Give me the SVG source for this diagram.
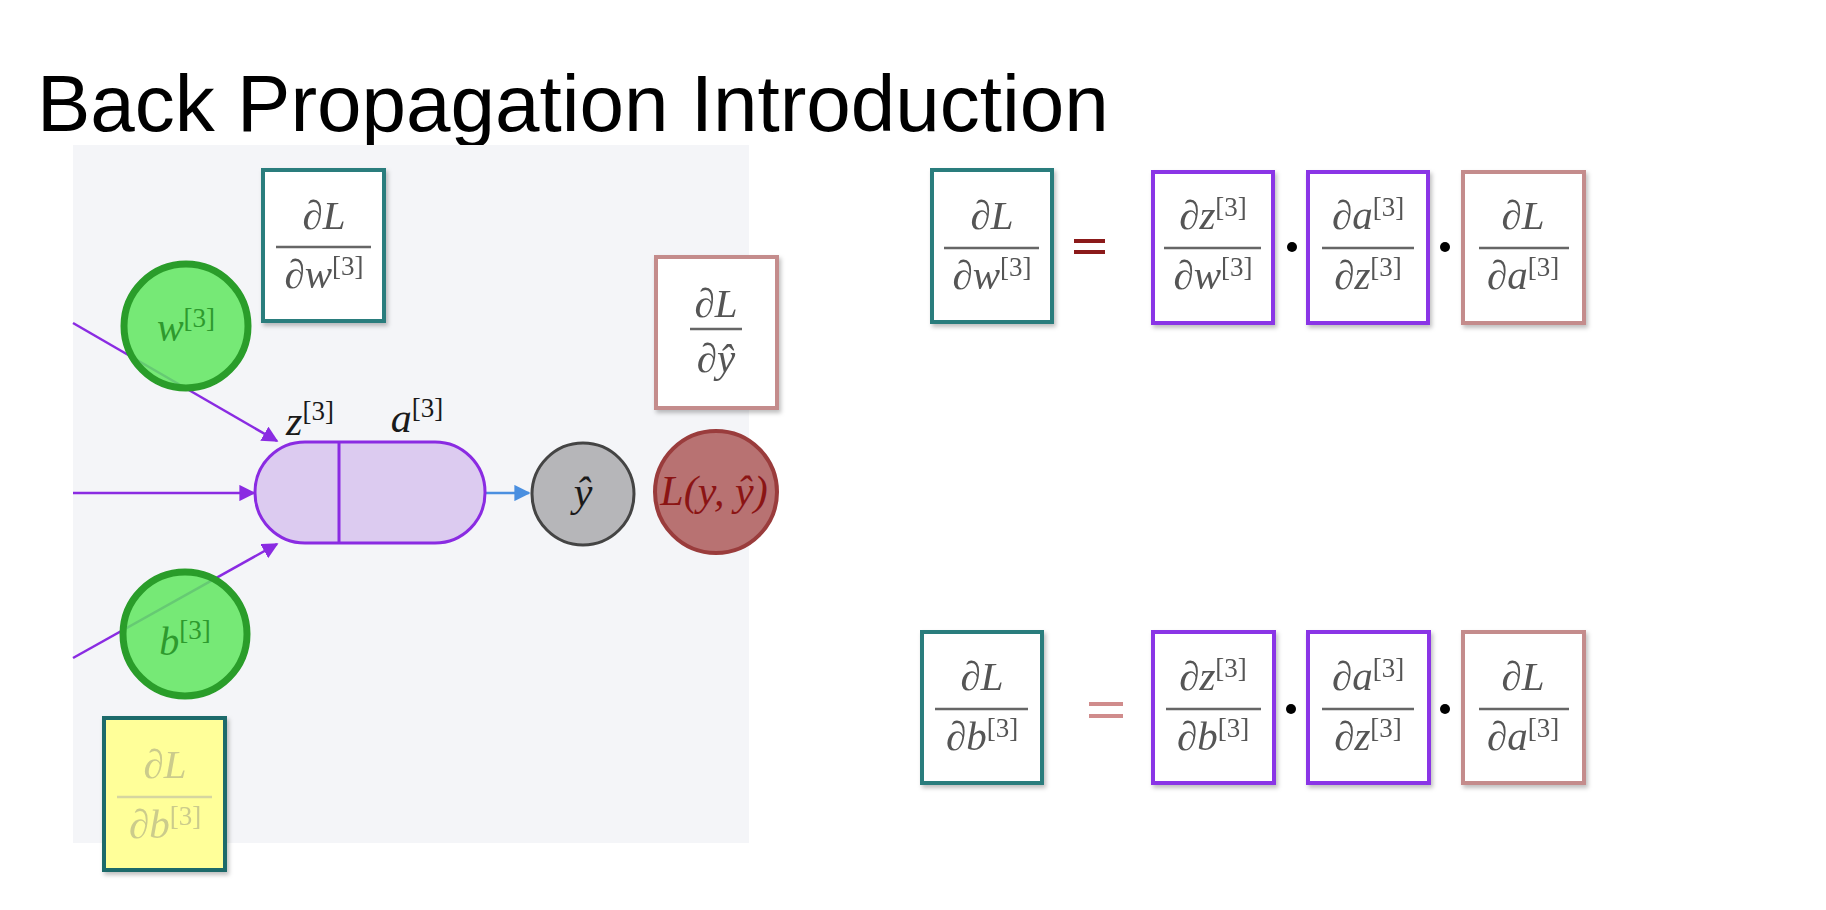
<svg xmlns="http://www.w3.org/2000/svg" width="1826" height="910" viewBox="0 0 1826 910">
<style>
.m{font-family:"Liberation Serif","Times New Roman",serif;font-size:41px;font-style:italic;fill:#555;text-anchor:middle}
.s{font-size:27px;font-style:normal}
.fl{stroke:#666;stroke-width:2.5}
.teal{fill:#fff;stroke:#2a7d7d;stroke-width:4}
.purp{fill:#fff;stroke:#8a35e6;stroke-width:4}
.pink{fill:#fff;stroke:#c48c8c;stroke-width:4}
.lbl{font-family:"Liberation Serif","Times New Roman",serif;font-size:42px;font-style:italic;fill:#1a1a1a;text-anchor:middle}
.conn{stroke:#8a2be2;stroke-width:2.5;fill:none}
</style>
<defs>
<filter id="sh" x="-10%" y="-10%" width="130%" height="130%">
<feDropShadow dx="2" dy="3" stdDeviation="2" flood-color="#000" flood-opacity="0.25"/>
</filter>
<marker id="ap" viewBox="0 0 10 10" refX="9" refY="5" markerWidth="6.5" markerHeight="6.5" orient="auto" markerUnits="strokeWidth">
<path d="M0,0 L10,5 L0,10 z" fill="#8a2be2"/>
</marker>
<marker id="ab" viewBox="0 0 10 10" refX="9" refY="5" markerWidth="6.5" markerHeight="6.5" orient="auto" markerUnits="strokeWidth">
<path d="M0,0 L10,5 L0,10 z" fill="#4a8fe0"/>
</marker>
</defs>
<rect x="0" y="0" width="1826" height="910" fill="#fff"/>
<text x="37" y="131" font-family="Liberation Sans, Arial, sans-serif" font-size="80" fill="#000">Back Propagation Introduction</text>
<rect id="panel" x="73" y="145" width="676" height="698" fill="#f4f5f8"/>

<g id="connectors">
<line class="conn" x1="73" y1="323" x2="277" y2="441" marker-end="url(#ap)"/>
<line class="conn" x1="73" y1="493" x2="254" y2="493" marker-end="url(#ap)"/>
<line class="conn" x1="73" y1="658" x2="277" y2="544" marker-end="url(#ap)"/>
<line x1="485" y1="493" x2="529" y2="493" stroke="#4a8fe0" stroke-width="2.5" marker-end="url(#ab)"/>
</g>

<g id="node-w">
<circle cx="186" cy="326" r="62" fill="#5fe65f" fill-opacity="0.85" stroke="#2a9d2a" stroke-width="7"/>
<text x="186" y="341" class="lbl" style="fill:#2e9a2e;font-size:40px">w<tspan class="s" dy="-14">[3]</tspan></text>
</g>
<g id="node-b">
<circle cx="185" cy="634" r="62" fill="#5fe65f" fill-opacity="0.85" stroke="#2a9d2a" stroke-width="7"/>
<text x="185" y="655" class="lbl" style="fill:#2e9a2e;font-size:40px">b<tspan class="s" dy="-16">[3]</tspan></text>
</g>

<g id="node-za">
<rect x="255" y="442" width="230" height="101" rx="50" ry="50" fill="#dccbf0" stroke="#8a2be2" stroke-width="3"/>
<line x1="339" y1="442" x2="339" y2="543" stroke="#8a2be2" stroke-width="3"/>
<text x="310" y="435" class="lbl">z<tspan class="s" dy="-15">[3]</tspan></text>
<text x="417" y="432" class="lbl">a<tspan class="s" dy="-15">[3]</tspan></text>
</g>

<g id="node-yhat">
<circle cx="583" cy="494" r="51" fill="#b6b6b9" stroke="#444" stroke-width="3"/>
<text x="583" y="506" class="lbl">ŷ</text>
</g>

<g id="node-loss">
<circle cx="716" cy="492" r="61" fill="#b46a6a" fill-opacity="0.95" stroke="#9a3c3c" stroke-width="4"/>
<text x="714" y="505" class="lbl" style="fill:#8b1414;font-size:42px">L(y, ŷ)</text>
</g>

<g id="box-dLdw" filter="url(#sh)">
<rect class="teal" x="263" y="170" width="121" height="151"/>
<text x="324" y="229" class="m">∂L</text>
<line class="fl" x1="276" y1="247" x2="371" y2="247"/>
<text x="324" y="288" class="m">∂w<tspan class="s" dy="-13">[3]</tspan></text>
</g>

<g id="box-dLdyhat" filter="url(#sh)">
<rect class="pink" x="656" y="257" width="121" height="151"/>
<text x="716" y="317" class="m">∂L</text>
<line class="fl" x1="690" y1="329" x2="742" y2="329"/>
<text x="716" y="372" class="m">∂ŷ</text>
</g>

<g id="box-dLdb" filter="url(#sh)">
<rect x="104" y="718" width="121" height="152" fill="#ffff99" stroke="#1f6b6b" stroke-width="4"/>
<text x="165" y="778" class="m" style="fill:#cbcb8c">∂L</text>
<line x1="117" y1="797" x2="212" y2="797" stroke="#d6d6a0" stroke-width="2.5"/>
<text x="165" y="838" class="m" style="fill:#cbcb8c">∂b<tspan class="s" dy="-13">[3]</tspan></text>
</g>

<g id="eq-w">
<g filter="url(#sh)">
<rect class="teal" x="932" y="170" width="120" height="152"/>
<text x="992" y="229" class="m">∂L</text>
<line class="fl" x1="944" y1="248" x2="1039" y2="248"/>
<text x="992" y="289" class="m">∂w<tspan class="s" dy="-13">[3]</tspan></text>
</g>
<line x1="1074" y1="241" x2="1105" y2="241" stroke="#8b1a1a" stroke-width="4"/>
<line x1="1074" y1="252" x2="1105" y2="252" stroke="#8b1a1a" stroke-width="4"/>
<g filter="url(#sh)">
<rect class="purp" x="1153" y="172" width="120" height="151"/>
<text x="1213" y="229" class="m">∂z<tspan class="s" dy="-13">[3]</tspan></text>
<line class="fl" x1="1164" y1="248" x2="1261" y2="248"/>
<text x="1213" y="289" class="m">∂w<tspan class="s" dy="-13">[3]</tspan></text>
</g>
<circle cx="1292" cy="247" r="5" fill="#000"/>
<g filter="url(#sh)">
<rect class="purp" x="1308" y="172" width="120" height="151"/>
<text x="1368" y="229" class="m">∂a<tspan class="s" dy="-13">[3]</tspan></text>
<line class="fl" x1="1322" y1="248" x2="1414" y2="248"/>
<text x="1368" y="289" class="m">∂z<tspan class="s" dy="-13">[3]</tspan></text>
</g>
<circle cx="1445" cy="247" r="5" fill="#000"/>
<g filter="url(#sh)">
<rect class="pink" x="1463" y="172" width="121" height="151"/>
<text x="1523" y="229" class="m">∂L</text>
<line class="fl" x1="1479" y1="248" x2="1569" y2="248"/>
<text x="1523" y="289" class="m">∂a<tspan class="s" dy="-13">[3]</tspan></text>
</g>
</g>

<g id="eq-b">
<g filter="url(#sh)">
<rect class="teal" x="922" y="632" width="120" height="151"/>
<text x="982" y="690" class="m">∂L</text>
<line class="fl" x1="935" y1="709" x2="1028" y2="709"/>
<text x="982" y="750" class="m">∂b<tspan class="s" dy="-13">[3]</tspan></text>
</g>
<line x1="1089" y1="704" x2="1123" y2="704" stroke="#d08c8c" stroke-width="4"/>
<line x1="1089" y1="716" x2="1123" y2="716" stroke="#d08c8c" stroke-width="4"/>
<g filter="url(#sh)">
<rect class="purp" x="1153" y="632" width="121" height="151"/>
<text x="1213" y="690" class="m">∂z<tspan class="s" dy="-13">[3]</tspan></text>
<line class="fl" x1="1166" y1="709" x2="1261" y2="709"/>
<text x="1213" y="750" class="m">∂b<tspan class="s" dy="-13">[3]</tspan></text>
</g>
<circle cx="1291" cy="709" r="5" fill="#000"/>
<g filter="url(#sh)">
<rect class="purp" x="1308" y="632" width="121" height="151"/>
<text x="1368" y="690" class="m">∂a<tspan class="s" dy="-13">[3]</tspan></text>
<line class="fl" x1="1322" y1="709" x2="1414" y2="709"/>
<text x="1368" y="750" class="m">∂z<tspan class="s" dy="-13">[3]</tspan></text>
</g>
<circle cx="1445" cy="709" r="5" fill="#000"/>
<g filter="url(#sh)">
<rect class="pink" x="1463" y="632" width="121" height="151"/>
<text x="1523" y="690" class="m">∂L</text>
<line class="fl" x1="1479" y1="709" x2="1569" y2="709"/>
<text x="1523" y="750" class="m">∂a<tspan class="s" dy="-13">[3]</tspan></text>
</g>
</g>
</svg>
